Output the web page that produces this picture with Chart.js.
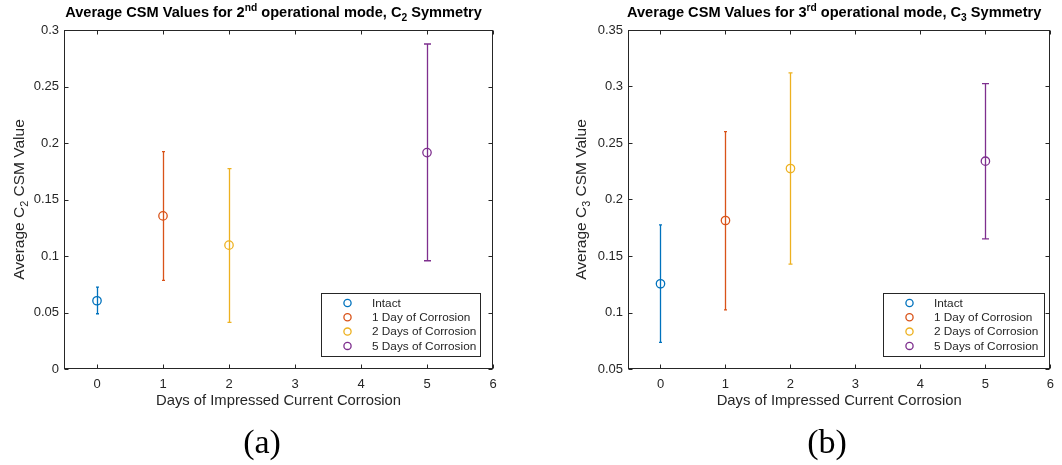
<!DOCTYPE html>
<html>
<head>
<meta charset="utf-8">
<script src="https://cdn.jsdelivr.net/npm/chart.js@4.4.1/dist/chart.umd.min.js"></script>
<style>
  body { margin: 0; background: #fff; }
  .wrap { position: absolute; top: 0; width: 531px; height: 465px; }
</style>
</head>
<body>
<div class="wrap" style="left:0"><canvas id="chartA" width="531" height="465"></canvas></div>
<div class="wrap" style="left:531px"><canvas id="chartB" width="531" height="465"></canvas></div>
<script>
// data
const days = [0, 1, 2, 5];
const seriesLabels = ['Intact', '1 Day of Corrosion', '2 Days of Corrosion', '5 Days of Corrosion'];
const seriesColors = ['#0072BD', '#D95319', '#EDB120', '#7E2F8E'];

const c2Mean = [0.0604, 0.1355, 0.1096, 0.1915];
const c2Low  = [0.0489, 0.0784, 0.0412, 0.0958];
const c2High = [0.0725, 0.1924, 0.1774, 0.2876];

const c3Mean = [0.1254, 0.1814, 0.2274, 0.2339];
const c3Low  = [0.0735, 0.1024, 0.1428, 0.1652];
const c3High = [0.1776, 0.2601, 0.3120, 0.3025];

const xTicks = [0, 1, 2, 3, 4, 5, 6];
const capWidths = [3, 3, 4, 7];

const ink = '#262626';
const sans = '"Liberation Sans", Arial, sans-serif';

function drawRich(ctx, parts, cx, base, size, weight) {
  const fontFor = p => (weight || '') + ' ' + (p.sup || p.sub ? size * 0.7 : size) + 'px ' + sans;
  let total = 0;
  parts.forEach(p => { ctx.font = fontFor(p); total += ctx.measureText(p.t).width; });
  let x = cx - total / 2;
  ctx.textAlign = 'left';
  ctx.textBaseline = 'alphabetic';
  parts.forEach(p => {
    ctx.font = fontFor(p);
    let y = base;
    if (p.sup) y = base - size * 0.42;
    if (p.sub) y = base + size * 0.28;
    ctx.fillText(p.t, x, y);
    x += ctx.measureText(p.t).width;
  });
}

const errorBars = {
  id: 'errorBars',
  beforeDatasetsDraw(chart) {
    const ctx = chart.ctx, xs = chart.scales.x, ys = chart.scales.y;
    ctx.save();
    chart.data.datasets.forEach((ds, i) => {
      ds.data.forEach(pt => {
        const px = Math.round(xs.getPixelForValue(pt.x)) + 0.5;
        const lo = ys.getPixelForValue(pt.lo), hi = ys.getPixelForValue(pt.hi);
        const c = capWidths[i] / 2;
        ctx.strokeStyle = ds.borderColor;
        ctx.lineWidth = 1.3;
        ctx.beginPath();
        ctx.moveTo(px, lo); ctx.lineTo(px, hi);
        ctx.moveTo(px - c, lo); ctx.lineTo(px + c, lo);
        ctx.moveTo(px - c, hi); ctx.lineTo(px + c, hi);
        ctx.stroke();
      });
    });
    ctx.restore();
  }
};

const frame = {
  id: 'frame',
  afterDraw(chart, args, opts) {
    const ctx = chart.ctx, a = chart.chartArea, xs = chart.scales.x, ys = chart.scales.y;
    ctx.save();
    ctx.strokeStyle = ink;
    ctx.lineWidth = 1;
    const L = Math.round(a.left) + 0.5, R = Math.round(a.right) - 0.5;
    const T = Math.round(a.top) + 0.5, B = Math.round(a.bottom) - 0.5;
    ctx.strokeRect(L, T, R - L, B - T);
    ctx.beginPath();
    xs.ticks.forEach(t => {
      const px = Math.round(xs.getPixelForValue(t.value)) + 0.5;
      ctx.moveTo(px, B); ctx.lineTo(px, B - 4);
      ctx.moveTo(px, T); ctx.lineTo(px, T + 4);
    });
    ys.ticks.forEach(t => {
      const py = Math.round(ys.getPixelForValue(t.value)) + 0.5;
      ctx.moveTo(L, py); ctx.lineTo(L + 4, py);
      ctx.moveTo(R, py); ctx.lineTo(R - 4, py);
    });
    ctx.stroke();

    // legend box
    const lg = opts.legend;
    ctx.fillStyle = '#fff';
    ctx.fillRect(lg.x, lg.y, lg.w, lg.h);
    ctx.strokeRect(Math.round(lg.x) + 0.5, Math.round(lg.y) + 0.5, lg.w, lg.h);
    chart.data.datasets.forEach((ds, i) => {
      const ry = lg.y + 10 + i * 14.3;
      ctx.strokeStyle = ds.borderColor;
      ctx.lineWidth = 1.3;
      ctx.beginPath();
      ctx.arc(lg.x + 26.5, ry, 3.6, 0, Math.PI * 2);
      ctx.stroke();
      ctx.fillStyle = ink;
      ctx.font = '11.8px ' + sans;
      ctx.textAlign = 'left';
      ctx.textBaseline = 'middle';
      ctx.fillText(ds.label, lg.x + 51, ry + 0.5);
    });

    // titles and captions
    const cx = (a.left + a.right) / 2, cy = (a.top + a.bottom) / 2;
    ctx.fillStyle = '#000';
    drawRich(ctx, opts.title, cx + opts.titleShift, 17, 14.6, 'bold');
    ctx.fillStyle = ink;
    drawRich(ctx, [{ t: 'Days of Impressed Current Corrosion' }], cx, 405, 14.8);
    ctx.save();
    ctx.translate(opts.yTitleX, cy);
    ctx.rotate(-Math.PI / 2);
    drawRich(ctx, opts.yTitle, 0, 0, 15.5);
    ctx.restore();
    ctx.fillStyle = '#000';
    ctx.font = '34px "Liberation Serif", serif';
    ctx.textAlign = 'center';
    ctx.textBaseline = 'alphabetic';
    ctx.fillText(opts.caption, opts.captionX, 453);
    ctx.restore();
  }
};

function makeChart(id, mean, low, high, yMin, yMax, yWidth, padRight, extra) {
  const datasets = seriesLabels.map((label, i) => ({
    label: label,
    data: [{ x: days[i], y: mean[i], lo: low[i], hi: high[i] }],
    borderColor: seriesColors[i],
    backgroundColor: 'rgba(0,0,0,0)',
    pointRadius: 4.2,
    pointBorderWidth: 1.3,
    pointHoverRadius: 4.2
  }));
  return new Chart(document.getElementById(id), {
    type: 'scatter',
    data: { datasets: datasets },
    plugins: [errorBars, frame],
    options: {
      responsive: false,
      animation: false,
      events: [],
      layout: { padding: { left: 0, right: padRight, top: 30, bottom: 0 } },
      plugins: {
        legend: { display: false },
        tooltip: { enabled: false },
        frame: extra
      },
      scales: {
        x: {
          type: 'linear',
          min: -0.5,
          max: 6,
          afterBuildTicks: s => { s.ticks = xTicks.map(v => ({ value: v })); },
          afterFit: s => { s.height = 96; },
          grid: { display: false, drawTicks: false },
          border: { display: false },
          ticks: { color: ink, font: { family: sans, size: 13 }, padding: 8 }
        },
        y: {
          min: yMin,
          max: yMax,
          afterFit: s => { s.width = yWidth; },
          grid: { display: false, drawTicks: false },
          border: { display: false },
          ticks: {
            stepSize: 0.05,
            color: ink,
            font: { family: sans, size: 13 },
            padding: 5,
            callback: v => String(+v.toFixed(2))
          }
        }
      }
    }
  });
}

makeChart('chartA', c2Mean, c2Low, c2High, 0, 0.3, 64, 38, {
  title: [{ t: 'Average CSM Values for 2' }, { t: 'nd', sup: true }, { t: ' operational mode, C' }, { t: '2', sub: true }, { t: ' Symmetry' }],
  titleShift: -5,
  yTitle: [{ t: 'Average C' }, { t: '2', sub: true }, { t: ' CSM Value' }],
  yTitleX: 24,
  caption: '(a)',
  captionX: 262,
  legend: { x: 321, y: 293, w: 159, h: 63 }
});

makeChart('chartB', c3Mean, c3Low, c3High, 0.05, 0.35, 97, 5, {
  title: [{ t: 'Average CSM Values for 3' }, { t: 'rd', sup: true }, { t: ' operational mode, C' }, { t: '3', sub: true }, { t: ' Symmetry' }],
  titleShift: -5,
  yTitle: [{ t: 'Average C' }, { t: '3', sub: true }, { t: ' CSM Value' }],
  yTitleX: 55,
  caption: '(b)',
  captionX: 296,
  legend: { x: 352, y: 293, w: 161, h: 63 }
});
</script>
</body>
</html>
